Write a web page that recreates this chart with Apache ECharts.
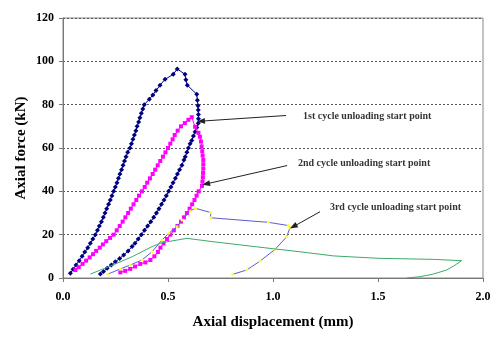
<!DOCTYPE html>
<html>
<head>
<meta charset="utf-8">
<script src="https://cdn.jsdelivr.net/npm/echarts@6/dist/echarts.min.js"></script>
<style>html,body{margin:0;padding:0;background:#fff}#c{width:500px;height:340px}</style>
</head>
<body>
<div id="c"></div>
<script>
// Cycle 1 (navy diamonds): [displacement mm, force kN]
const cycle1 = [
 [0.035,2.2],[0.048,4],[0.062,6],[0.077,8],[0.091,10],[0.104,12],[0.118,14],[0.13,16],[0.142,18],[0.154,20],
 [0.164,22],[0.173,24],[0.183,26],[0.192,28],[0.2,30],[0.208,32],[0.217,34],[0.225,36],[0.233,38],[0.241,40],
 [0.249,42],[0.257,44],[0.264,46],[0.271,48],[0.279,50],[0.286,52],[0.293,54],[0.3,56],[0.308,58],[0.319,60],
 [0.326,62],[0.333,64],[0.34,66],[0.347,68],[0.353,70],[0.36,72],[0.366,74],[0.373,76],[0.38,78],[0.387,80],
 [0.411,82.5],[0.428,84.5],[0.443,86.5],[0.462,89],[0.486,91.7],[0.525,94],[0.544,96.5],[0.581,94],[0.585,91.5],
 [0.592,89],[0.637,84.8],[0.64,82],[0.643,79.5],[0.644,77.5],[0.645,75.5],[0.645,73.5],[0.644,71.4],[0.637,69.5],
 [0.629,67.5],[0.621,65.5],[0.613,63.5],[0.605,62],[0.597,60],[0.59,58],[0.582,56],[0.576,54.5],[0.566,52],
 [0.555,50],[0.545,48],[0.535,46],[0.524,44],[0.514,42],[0.503,40],[0.492,38],[0.481,36],[0.469,34],[0.457,32],
 [0.445,30],[0.432,28],[0.418,26],[0.403,24],[0.388,22],[0.373,20],[0.358,18],[0.343,16],[0.329,14.5],[0.31,12.5],
 [0.289,10.6],[0.27,9],[0.249,7.5],[0.23,6],[0.21,4.5],[0.193,3],[0.178,1.8]
];
// Cycle 2 (magenta squares)
const cycle2 = [
 [0.059,3.7],[0.075,5],[0.093,6.5],[0.11,8],[0.127,9.5],[0.143,11],[0.158,12.5],[0.175,14],[0.19,15.5],[0.206,17],
 [0.224,18.5],[0.241,20],[0.256,22],[0.27,24],[0.284,26],[0.297,28],[0.31,30],[0.323,32],[0.336,34],[0.349,36],
 [0.362,38],[0.376,40],[0.389,42],[0.401,44],[0.414,46],[0.427,48],[0.439,50],[0.451,52],[0.463,54],[0.476,56],
 [0.488,58],[0.5,60],[0.511,62],[0.522,64],[0.532,66],[0.546,68],[0.562,70],[0.58,71.5],[0.597,73],[0.613,74.2],
 [0.629,69.8],[0.645,67],[0.652,65.2],[0.657,63],[0.66,60.7],[0.663,58.5],[0.665,56.5],[0.668,54.5],[0.668,52.5],
 [0.668,50.5],[0.667,48.5],[0.666,46.5],[0.664,44.5],[0.662,42.5],[0.646,40],[0.636,38],[0.626,36],[0.615,34],
 [0.603,32],[0.59,30],[0.576,28],[0.562,26],[0.545,24],[0.528,22],[0.511,20],[0.495,18],[0.479,16],[0.464,14],
 [0.452,12],[0.435,10],[0.416,8.3],[0.392,7.2],[0.368,6.5],[0.343,5.3],[0.32,4.2],[0.296,3.3],[0.273,2.6]
];
// Cycle 3 (blue line, yellow markers)
const cycle3 = [
 [0.214,1.8],[0.273,4.2],[0.32,6],[0.376,8.3],[0.424,12.1],[0.471,17.5],[0.503,20.6],[0.543,23.7],[0.567,26.8],
 [0.606,30.9],[0.63,32.2],[0.703,30.2],[0.703,27.8],[0.978,25.7],[1.073,24.2],[1.081,23.2],[1.065,19],[1.01,13.2],
 [0.938,7.8],[0.875,3.7],[0.808,1.7]
];
// Cycle 4 (green line)
const cycle4 = [
 [0.13,1.8],[0.218,5.2],[0.329,9.8],[0.424,14.5],[0.471,16.3],[0.59,18.3],[0.71,16.8],[0.938,14.2],[1.129,12.1],
 [1.287,10.2],[1.5,9.1],[1.763,8.6],[1.898,8.0],[1.86,5.5],[1.827,3.7],[1.763,1.8],[1.7,0.6],[1.637,0]
];
const xTicks = [0, 0.5, 1.0, 1.5, 2.0];
const yTicks = [0, 20, 40, 60, 80, 100, 120];
const noteTexts = ['1st cycle unloading start point', '2nd cycle unloading start point', '3rd cycle unloading start point'];
const noteAnchors = [[1.143, 74.4], [1.119, 52.8], [1.271, 32.4]];
const arrowFrom = [[1.062, 75.0], [1.067, 51.9], [1.224, 30.6]];
const arrowTo = [[0.657, 72.4], [0.681, 43.4], [1.097, 23.7]];

const serif = "'Liberation Serif', 'Times New Roman', serif";
const chart = echarts.init(document.getElementById('c'), null, {renderer: 'canvas'});
chart.setOption({
  animation: false,
  backgroundColor: '#fff',
  grid: {left: 63, right: 17, top: 18, bottom: 62, show: true, borderColor: '#888', borderWidth: 1},
  xAxis: {
    type: 'value', min: xTicks[0], max: xTicks[xTicks.length - 1], interval: 0.5,
    name: 'Axial displacement (mm)', nameLocation: 'middle', nameGap: 37,
    nameTextStyle: {fontFamily: serif, fontWeight: 'bold', fontSize: 15, color: '#000'},
    axisLine: {lineStyle: {color: '#777'}},
    axisTick: {show: true, length: 4, lineStyle: {color: '#777'}},
    axisLabel: {fontFamily: serif, fontWeight: 'bold', fontSize: 12, color: '#000', margin: 13,
      formatter: v => v.toFixed(1)},
    splitLine: {show: false}
  },
  yAxis: {
    type: 'value', min: yTicks[0], max: yTicks[yTicks.length - 1], interval: 20,
    name: 'Axial force (kN)', nameLocation: 'middle', nameGap: 34, nameMoveOverlap: false,
    nameTextStyle: {fontFamily: serif, fontWeight: 'bold', fontSize: 15, color: '#000'},
    axisLine: {show: true, lineStyle: {color: '#777'}},
    axisTick: {show: true, length: 4, lineStyle: {color: '#777'}},
    axisLabel: {fontFamily: serif, fontWeight: 'bold', fontSize: 12, color: '#000', margin: 9},
    splitLine: {show: true, lineStyle: {type: [2, 2], color: '#555', width: 1}}
  },
  series: [
    {type: 'line', data: cycle1, symbol: 'diamond', symbolSize: 5, showSymbol: true,
      lineStyle: {color: '#000080', width: 1}, itemStyle: {color: '#000080'}, z: 2},
    {type: 'line', data: cycle2, symbol: 'rect', symbolSize: 4, showSymbol: true,
      lineStyle: {color: '#ff00ff', width: 1}, itemStyle: {color: '#ff00ff'}, z: 3},
    {type: 'line', data: cycle3, symbol: 'circle', symbolSize: 3, showSymbol: true,
      lineStyle: {color: '#5c5cd0', width: 1}, itemStyle: {color: '#ffff33', borderWidth: 0}, z: 4},
    {type: 'line', data: cycle4, symbol: 'none',
      lineStyle: {color: '#3daa6a', width: 1}, z: 5},
    {type: 'scatter', symbolSize: 0, silent: true, z: 6,
      data: noteAnchors.map((p, i) => [p[0], p[1], noteTexts[i]]),
      label: {show: true, position: 'right', distance: 0, formatter: p => p.value[2],
        fontFamily: serif, fontWeight: 'bold', fontSize: 10, color: '#000'},
      markLine: {silent: true, symbol: ['none', 'triangle'], symbolSize: [6, 8],
        lineStyle: {color: '#222', width: 1, type: 'solid'}, label: {show: false},
        data: arrowFrom.map((p, i) => [{coord: p}, {coord: arrowTo[i]}])}
    }
  ]
});
</script>
</body>
</html>
